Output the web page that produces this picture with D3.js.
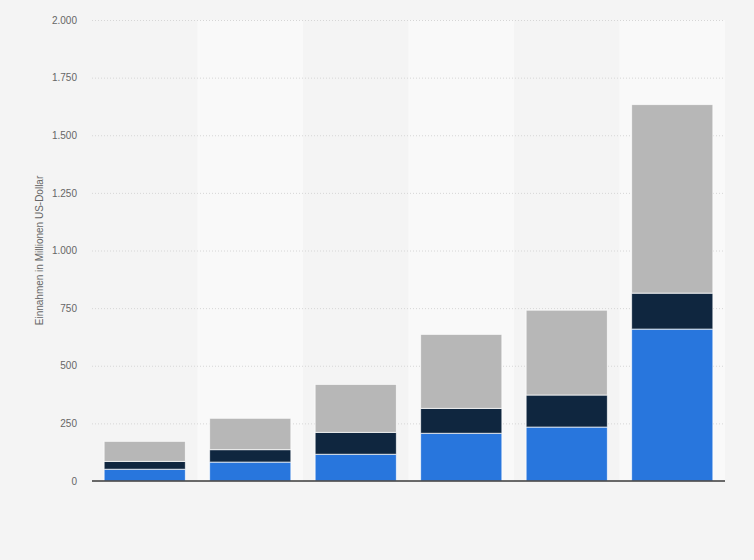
<!DOCTYPE html>
<html>
<head>
<meta charset="utf-8">
<script src="https://cdn.jsdelivr.net/npm/d3@7"></script>
<style>
  html, body { margin: 0; padding: 0; background: #f4f4f4; }
  svg { display: block; font-family: Arial, "Liberation Sans", sans-serif; }
</style>
</head>
<body>
<svg id="chart" width="754" height="560"></svg>
<script>
// categories (no labels are shown in the chart)
const categories = ["1", "2", "3", "4", "5", "6"];
const seriesNames = ["Serie 1", "Serie 2", "Serie 3"];
// values per series, bottom to top
const series1 = [51, 82, 116, 207, 234, 659];
const series2 = [34, 54, 95, 108, 139, 156];
const series3 = [87, 136, 208, 321, 368, 818];
const yTicks = [0, 250, 500, 750, 1000, 1250, 1500, 1750, 2000];
const colors = ["#2876dd", "#0f263f", "#b7b7b7"];

const svg = d3.select("#chart");
const margin = { left: 92, right: 29, top: 20, bottom: 79 };
const width = +svg.attr("width");
const height = +svg.attr("height");

const x = d3.scaleBand()
    .domain(categories)
    .range([margin.left, width - margin.right])
    .padding(0);

const y = d3.scaleLinear()
    .domain([0, 2000])
    .range([height - margin.bottom, margin.top]);

const de = d3.formatLocale({ decimal: ",", thousands: ".", grouping: [3], currency: ["", " €"] });
const fmt = de.format(",");

// alternating background columns
svg.append("g")
    .selectAll("rect")
    .data(categories)
    .join("rect")
    .attr("x", d => x(d))
    .attr("y", margin.top)
    .attr("width", x.bandwidth())
    .attr("height", y(0) - margin.top)
    .attr("fill", (d, i) => i % 2 === 1 ? "#f9f9f9" : "#f4f4f4");

// gridlines
svg.append("g")
    .selectAll("line")
    .data(yTicks.filter(t => t > 0))
    .join("line")
    .attr("x1", margin.left)
    .attr("x2", width - margin.right)
    .attr("y1", d => y(d) + 0.5)
    .attr("y2", d => y(d) + 0.5)
    .attr("stroke", "#d6d6d6")
    .attr("stroke-width", 1)
    .attr("stroke-dasharray", "1,2");

// y axis
const yAxis = svg.append("g")
    .attr("transform", `translate(${margin.left - 15},0)`)
    .call(d3.axisLeft(y).tickValues(yTicks).tickFormat(fmt).tickSize(0).tickPadding(0));
yAxis.select(".domain").remove();
yAxis.selectAll("text")
    .attr("fill", "#666")
    .attr("font-size", "10px");

// axis title
svg.append("text")
    .attr("transform", `translate(43,${(y(0) + y(2000)) / 2}) rotate(-90)`)
    .attr("text-anchor", "middle")
    .attr("fill", "#666")
    .attr("font-size", "10px")
    .text("Einnahmen in Millionen US-Dollar");

// stacked bars
const table = categories.map((c, i) => ({
    cat: c,
    [seriesNames[0]]: series1[i],
    [seriesNames[1]]: series2[i],
    [seriesNames[2]]: series3[i]
}));
const stacked = d3.stack().keys(seriesNames)(table);

const barPad = x.bandwidth() * 0.115;
svg.append("g")
    .selectAll("g")
    .data(stacked)
    .join("g")
    .attr("fill", (d, i) => colors[i])
    .selectAll("rect")
    .data(d => d)
    .join("rect")
    .attr("x", d => x(d.data.cat) + barPad)
    .attr("width", x.bandwidth() - 2 * barPad)
    .attr("y", d => y(d[1]))
    .attr("height", d => y(d[0]) - y(d[1]))
    .attr("stroke", "#ffffff")
    .attr("stroke-opacity", 0.7)
    .attr("stroke-width", 1);

// baseline
svg.append("line")
    .attr("x1", margin.left)
    .attr("x2", width - margin.right)
    .attr("y1", y(0))
    .attr("y2", y(0))
    .attr("stroke", "#3a3a3a")
    .attr("stroke-width", 1.5);
</script>
</body>
</html>
